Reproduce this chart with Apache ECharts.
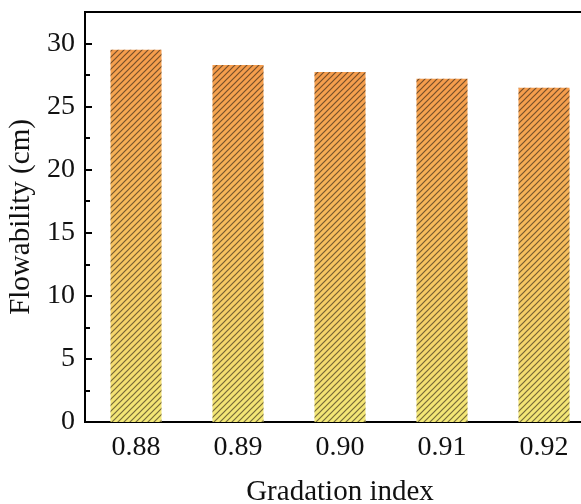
<!DOCTYPE html>
<html>
<head>
<meta charset="utf-8">
<script src="https://cdn.jsdelivr.net/npm/echarts@6/dist/echarts.min.js"></script>
<style>html,body{margin:0;padding:0;background:#fff;}#c{width:581px;height:504px;}</style>
</head>
<body>
<div id="c"></div>
<script>
var categories = ['0.88', '0.89', '0.90', '0.91', '0.92'];
var flowability = [29.5, 28.3, 27.75, 27.2, 26.5];
var yTicks = [0, 5, 10, 15, 20, 25, 30];

function makeHatch() {
  var s = 6;
  var cv = document.createElement('canvas');
  cv.width = s; cv.height = s;
  var ctx = cv.getContext('2d');
  ctx.strokeStyle = 'rgba(40,30,20,0.62)';
  ctx.lineWidth = 1.2;
  ctx.beginPath();
  ctx.moveTo(-1, s + 1); ctx.lineTo(s + 1, -1);
  ctx.moveTo(-1, 1); ctx.lineTo(1, -1);
  ctx.moveTo(s - 1, s + 1); ctx.lineTo(s + 1, s - 1);
  ctx.stroke();
  return cv;
}

var chart = echarts.init(document.getElementById('c'));
var font = '"Liberation Serif", "Times New Roman", serif';
chart.setOption({
  animation: false,
  backgroundColor: '#fff',
  grid: {
    left: 85, right: -14, top: 12, bottom: 82,
    containLabel: false, outerBoundsMode: 'none',
    show: true, borderColor: '#000', borderWidth: 2
  },
  xAxis: {
    type: 'category',
    data: categories,
    name: 'Gradation index',
    nameLocation: 'middle',
    nameGap: 56,
    nameTextStyle: { fontFamily: font, fontSize: 29, color: '#111' },
    axisLine: { lineStyle: { color: '#000', width: 2 } },
    axisTick: { show: false },
    axisLabel: { fontFamily: font, fontSize: 28, color: '#111', margin: 12 }
  },
  yAxis: {
    type: 'value',
    min: 0, max: 32.5, interval: 5,
    name: 'Flowability (cm)',
    nameLocation: 'middle',
    nameGap: 49,
    nameTextStyle: { fontFamily: font, fontSize: 29, color: '#111' },
    axisLine: { show: true, lineStyle: { color: '#000', width: 2 } },
    axisTick: { show: true, inside: true, length: 7, lineStyle: { color: '#000', width: 2 } },
    minorTick: { show: true, splitNumber: 2, length: 5, lineStyle: { color: '#000', width: 2 } },
    splitLine: { show: false },
    axisLabel: {
      fontFamily: font, fontSize: 28, color: '#111', margin: 10, showMaxLabel: false,
      formatter: function (v) { return yTicks.indexOf(v) >= 0 ? String(v) : ''; }
    }
  },
  series: [
    {
      type: 'bar',
      data: flowability,
      barWidth: '50%',
      itemStyle: {
        color: new echarts.graphic.LinearGradient(0, 0, 0, 1, [
          { offset: 0, color: '#F59C4C' },
          { offset: 0.5, color: '#F7C05E' },
          { offset: 1, color: '#F3E877' }
        ])
      }
    },
    {
      type: 'bar',
      data: flowability,
      barWidth: '50%',
      barGap: '-100%',
      silent: true,
      itemStyle: { color: { image: makeHatch(), repeat: 'repeat' } }
    }
  ]
});
</script>
</body>
</html>
